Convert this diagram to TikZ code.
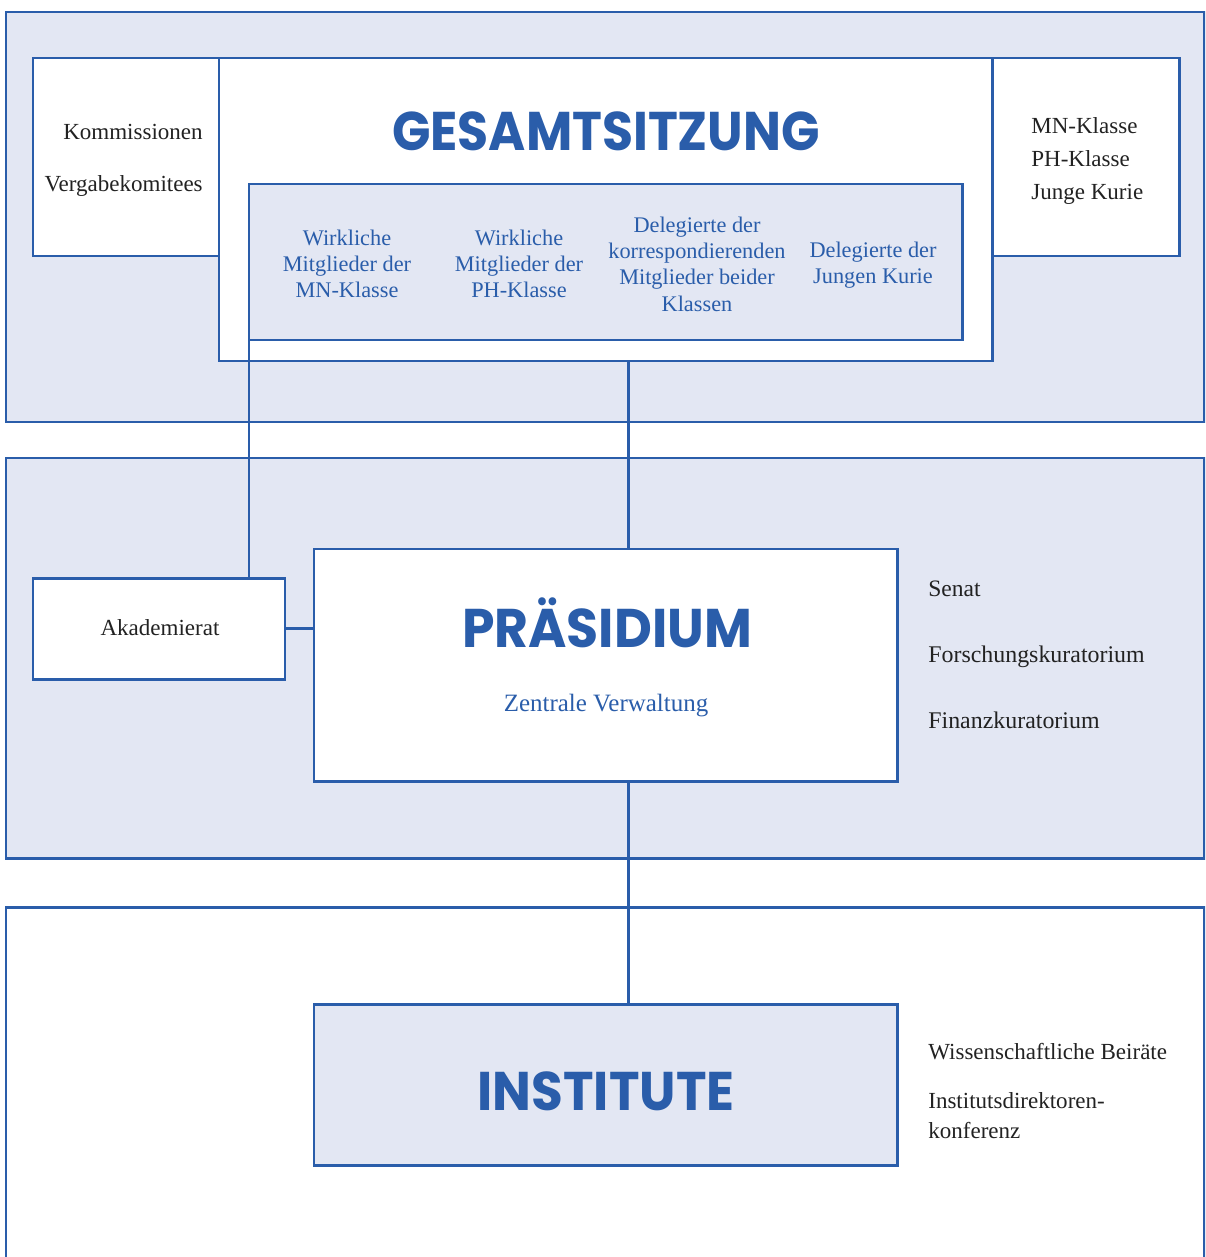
\documentclass[tikz,border=0pt]{standalone}
\usepackage{fontspec}
\setmainfont{Liberation Serif}
\newfontfamily\headfont{Poppins}
\usepackage{graphicx}
\usetikzlibrary{fit}
\definecolor{abblue}{HTML}{2A5DAA}
\definecolor{abfill}{HTML}{E3E7F3}
\definecolor{abtext}{HTML}{222222}
\begin{document}
\begin{tikzpicture}[x=0.02cm,y=-0.02cm,
  frame/.style={draw=abblue, line width=1.7pt, inner sep=0pt, outer sep=0pt},
  band/.style={frame, fill=abfill},
  wbox/.style={frame, fill=white},
  fbox/.style={frame, fill=abfill},
  link/.style={draw=abblue, line width=1.7pt},
  body/.style={font=\fontsize{13.1}{15}\selectfont, text=abtext, inner sep=0pt},
  bluetxt/.style={font=\fontsize{12.7}{15}\selectfont, text=abblue, align=center, inner sep=0pt},
  title/.style={font=\headfont\bfseries\fontsize{31}{34}\selectfont, text=abblue, inner sep=0pt, anchor=base},
]
\useasboundingbox (0,0) rectangle (1205,1257);
\clip (0,0) rectangle (1205,1257);

% bands
\node[band, fit={(6,12)(1204,422)}] (band1) {};
\node[band, fit={(6,458)(1204,858)}] (band2) {};
\node[wbox, fit={(6,907)(1204,1320)}] (band3) {};

% top level boxes
\node[wbox, fit={(33,58)(219,256)}] (komm) {};
\node[wbox, fit={(992,58)(1179,256)}] (klassen) {};
\node[wbox, fit={(219,58)(992,361)}] (gesamt) {};
\node[fbox, fit={(249,184)(962,340)}] (inner) {};

% middle boxes
\node[wbox, fit={(33,578)(285,679)}] (akad) {};
\node[wbox, fit={(314,549)(897,781)}] (praes) {};

% bottom box
\node[fbox, fit={(314,1004)(897,1165)}] (inst) {};

% connectors
\coordinate (tap) at (628,0);
\draw[link] (inner.south west) -- (inner.south west |- akad.north);
\draw[link] (gesamt.south -| tap) -- (praes.north -| tap);
\draw[link] (akad.east) -- (akad.east -| praes.west);
\draw[link] (praes.south -| tap) -- (inst.north -| tap);

% titles
\node[title] (tGes) at (606,150) {\resizebox{8.56cm}{\height}{GESAMTSITZUNG}};
\node[title] (tPra) at (607,647) {\resizebox{5.8cm}{\height}{PRÄSIDIUM}};
\node[title] (tIns) at (606,1110) {\resizebox{5.14cm}{\height}{INSTITUTE}};

% Gesamtsitzung contents
\node[bluetxt] (c1) at (347,264) {Wirkliche\\Mitglieder der\\MN-Klasse};
\node[bluetxt] (c2) at (519,264) {Wirkliche\\Mitglieder der\\PH-Klasse};
\node[bluetxt] (c3) at (697,264) {Delegierte der\\korrespondierenden\\Mitglieder beider\\Klassen};
\node[bluetxt] (c4) at (873,265) {Delegierte der\\Jungen Kurie};

% side texts top
\node[body, anchor=base east] (tKom) at (203,139) {Kommissionen};
\node[body, anchor=base east] (tVer) at (203,191) {Vergabekomitees};
\node[body, anchor=base west] (tMN) at (1031,133) {MN-Klasse};
\node[body, anchor=base west] (tPH) at (1031,166) {PH-Klasse};
\node[body, anchor=base west] (tJK) at (1031,199) {Junge Kurie};

% middle texts
\node[body, anchor=base] (tAka) at (160,635) {Akademierat};
\node[bluetxt, anchor=base, font=\fontsize{14.2}{16}\selectfont] (tZV) at (606,711) {Zentrale Verwaltung};
\node[body, anchor=base west, font=\fontsize{13.4}{15}\selectfont] (tSen) at (928,596) {Senat};
\node[body, anchor=base west, font=\fontsize{13.6}{15}\selectfont] (tFor) at (928,662) {Forschungskuratorium};
\node[body, anchor=base west, font=\fontsize{13.6}{15}\selectfont] (tFin) at (928,728) {Finanzkuratorium};

% bottom texts
\node[body, anchor=base west] (tWB) at (928,1059) {Wissenschaftliche Beiräte};
\node[body, anchor=base west] (tID) at (928,1108) {Institutsdirektoren-};
\node[body, anchor=base west] (tKo) at (928,1138) {konferenz};
\end{tikzpicture}
\end{document}
